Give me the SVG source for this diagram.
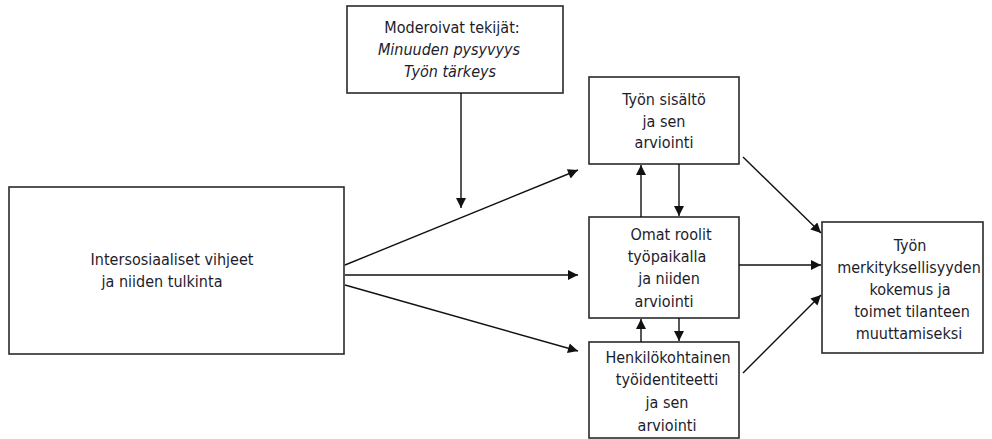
<svg xmlns="http://www.w3.org/2000/svg" width="992" height="439" viewBox="0 0 992 439">
<defs>
<marker id="ah" viewBox="0 0 10 10" refX="10" refY="5" markerWidth="13" markerHeight="10" markerUnits="userSpaceOnUse" orient="auto">
<path d="M0,0 L10,5 L0,10 Z" fill="#111"/>
</marker>
</defs>
<style>
.box{fill:#fff;stroke:#2a2a2a;stroke-width:1.6}
.t{font-family:"DejaVu Sans Condensed","Liberation Sans Narrow","DejaVu Sans",sans-serif;font-stretch:condensed;font-size:16px;fill:#1c1c2c;text-anchor:middle}
.i{font-style:italic}
.c{stroke:#111;stroke-width:1.4;fill:none;marker-end:url(#ah)}
</style>
<rect width="992" height="439" fill="#fff"/>
<g id="moderators">
<rect class="box" x="347" y="6" width="216" height="87"/>
<text class="t" x="452" y="33">Moderoivat tekijät:</text>
<text class="t i" x="449" y="55">Minuuden pysyvyys</text>
<text class="t i" x="450" y="77">Työn tärkeys</text>
</g>
<g id="cues">
<rect class="box" x="9" y="187" width="335" height="167"/>
<text class="t" x="172" y="265">Intersosiaaliset vihjeet</text>
<text class="t" x="162" y="287">ja niiden tulkinta</text>
</g>
<g id="content">
<rect class="box" x="589" y="77" width="150" height="87"/>
<text class="t" x="664" y="105">Työn sisältö</text>
<text class="t" x="664" y="127">ja sen</text>
<text class="t" x="664" y="148">arviointi</text>
</g>
<g id="roles">
<rect class="box" x="589" y="217" width="150" height="101"/>
<text class="t" x="671" y="240">Omat roolit</text>
<text class="t" x="667" y="262">työpaikalla</text>
<text class="t" x="669" y="284">ja niiden</text>
<text class="t" x="664" y="307">arviointi</text>
</g>
<g id="identity">
<rect class="box" x="589" y="342" width="150" height="96"/>
<text class="t" x="668" y="363">Henkilökohtainen</text>
<text class="t" x="667" y="385">työidentiteetti</text>
<text class="t" x="667" y="408">ja sen</text>
<text class="t" x="667" y="431">arviointi</text>
</g>
<g id="meaning">
<rect class="box" x="822" y="222" width="161" height="131"/>
<text class="t" x="910" y="251">Työn</text>
<text class="t" x="909" y="273">merkityksellisyyden</text>
<text class="t" x="910" y="295">kokemus ja</text>
<text class="t" x="912" y="317">toimet tilanteen</text>
<text class="t" x="909" y="339">muuttamiseksi</text>
</g>
<g id="connectors">
<line class="c" x1="461" y1="93" x2="461" y2="208"/>
<line class="c" x1="345" y1="265" x2="578" y2="170"/>
<line class="c" x1="345" y1="275" x2="578" y2="275"/>
<line class="c" x1="345" y1="285" x2="578" y2="351"/>
<line class="c" x1="641" y1="217" x2="641" y2="165"/>
<line class="c" x1="679" y1="164" x2="679" y2="216"/>
<line class="c" x1="641" y1="342" x2="641" y2="319"/>
<line class="c" x1="679" y1="318" x2="679" y2="341"/>
<line class="c" x1="743" y1="157" x2="821" y2="233"/>
<line class="c" x1="739" y1="265" x2="821" y2="265"/>
<line class="c" x1="743" y1="373" x2="821" y2="295"/>
</g>
</svg>
